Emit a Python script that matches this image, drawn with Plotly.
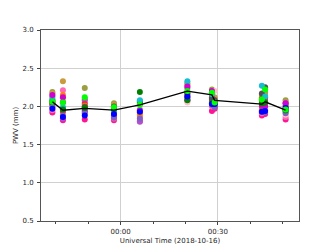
import plotly.graph_objects as go

epochs = [
    "2018-10-15 23:38:55", "2018-10-15 23:42:10", "2018-10-15 23:48:55",
    "2018-10-15 23:57:55", "2018-10-16 00:05:55", "2018-10-16 00:20:35",
    "2018-10-16 00:28:10", "2018-10-16 00:29:00", "2018-10-16 00:43:35",
    "2018-10-16 00:44:35", "2018-10-16 00:50:55",
]

station_colors = [
    "#9aa040", "#c89b3c", "#ff1493", "#ff69b4", "#ffc0cb", "#b050d0",
    "#e0303a", "#ff7f0e", "#a0522d", "#505058", "#17becf", "#d000d0",
    "#8060c0", "#008000", "#0000ff", "#00ff00",
]

station_pwv = [
    [2.19, 2.10, 2.24, 2.04, 2.07, 2.30, 2.22, 2.10, 2.15, 2.18, 2.08],
    [2.17, 2.33, 2.10, 2.02, 2.05, 2.28, 2.14, 2.12, 2.12, 2.14, 2.05],
    [1.92, 1.82, 1.83, 1.82, 1.81, 2.07, 1.94, 1.97, 1.88, 1.90, 1.83],
    [1.95, 2.21, 2.05, 1.84, 1.86, 2.10, 2.00, 2.02, 1.91, 1.95, 1.86],
    [2.00, 2.08, 1.97, 1.92, 1.97, 2.05, 2.05, 2.20, 2.05, 1.98, 1.89],
    [2.13, 1.84, 2.08, 1.86, 1.80, 2.24, 2.18, 2.08, 1.95, 2.10, 2.04],
    [2.02, 1.93, 2.03, 1.95, 1.92, 2.15, 2.12, 2.06, 2.00, 2.06, 1.94],
    [2.05, 2.15, 2.01, 1.98, 1.89, 2.18, 2.09, 2.00, 2.08, 2.02, 1.99],
    [2.08, 1.98, 2.00, 1.96, 2.03, 2.12, 2.06, 2.04, 2.10, 2.12, 1.97],
    [2.03, 2.05, 1.99, 2.00, 2.06, 2.17, 2.10, 2.08, 2.17, 2.25, 2.01],
    [2.10, 1.99, 1.95, 1.93, 2.08, 2.33, 2.16, 2.01, 2.27, 2.13, 1.93],
    [2.15, 2.12, 1.93, 1.88, 1.95, 2.26, 2.20, 2.00, 2.02, 2.00, 2.04],
    [1.99, 1.88, 1.91, 1.85, 1.84, 2.09, 2.02, 1.99, 1.93, 1.92, 1.91],
    [2.06, 1.96, 1.98, 1.97, 2.19, 2.08, 2.04, 2.03, 2.04, 2.05, 1.95],
    [1.97, 1.86, 1.88, 1.90, 1.93, 2.13, 2.03, 2.03, 1.93, 1.94, 1.98],
    [2.06, 2.05, 2.12, 1.99, 2.02, 2.20, 2.18, 2.05, 2.09, 2.22, 1.96],
]

median_pwv = [2.06, 1.95, 1.975, 1.95, 2.02, 2.20, 2.15, 2.08, 2.03, 2.06, 1.95]

y_ticks = [0.5, 1.0, 1.5, 2.0, 2.5, 3.0]

fig = go.Figure()
for color, vals in zip(station_colors, station_pwv):
    fig.add_trace(go.Scatter(
        x=epochs, y=vals, mode="markers",
        marker=dict(color=color, size=6, line=dict(width=0)),
        showlegend=False,
    ))

fig.add_trace(go.Scatter(
    x=epochs, y=median_pwv, mode="lines",
    line=dict(color="black", width=1.3), showlegend=False,
))

font = dict(family="DejaVu Sans", size=7, color="#262626")

fig.update_layout(
    width=332, height=249,
    margin=dict(l=41, r=33, t=30, b=28),
    paper_bgcolor="white", plot_bgcolor="white",
    font=font,
    xaxis=dict(
        type="date",
        range=["2018-10-15 23:35:24", "2018-10-16 00:55:03"],
        tick0="2018-10-16 00:00:00", dtick=30 * 60 * 1000,
        tickformat="%H:%M",
        ticks="outside", ticklen=3, tickcolor="#444",
        ticklabelstandoff=1,
        showgrid=True, gridcolor="#d0d0d0", gridwidth=1,
        showline=True, linecolor="#555", linewidth=1, mirror=True,
        zeroline=False,
        minor=dict(dtick=10 * 60 * 1000, tick0="2018-10-16 00:00:00",
                   ticks="outside", ticklen=2, tickcolor="#444", showgrid=False),
        title=dict(text="Universal Time (2018-10-16)", font=font, standoff=2),
        tickfont=font,
        automargin=False,
    ),
    yaxis=dict(
        range=[0.5, 3.0],
        tickvals=y_ticks, tickformat=".1f",
        ticks="outside", ticklen=3, tickcolor="#444",
        ticklabelstandoff=2,
        showgrid=True, gridcolor="#d0d0d0", gridwidth=1,
        showline=True, linecolor="#555", linewidth=1, mirror=True,
        zeroline=False,
        title=dict(text="PWV (mm)", font=font, standoff=3),
        tickfont=font,
        automargin=False,
    ),
)

fig.write_html("out.html", config={"displayModeBar": False},
               post_script="document.body.style.margin='0';")
